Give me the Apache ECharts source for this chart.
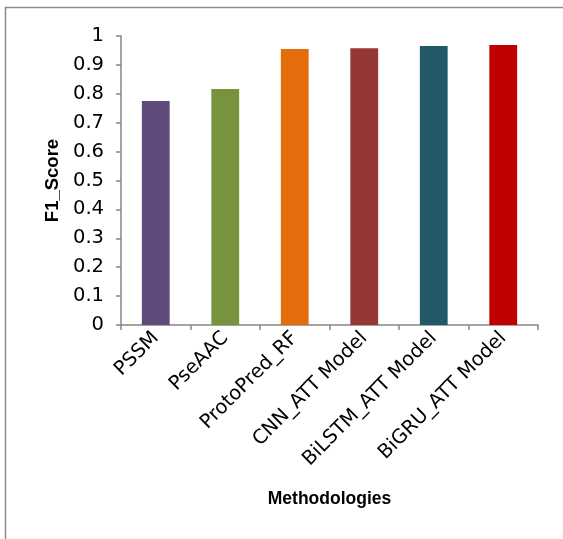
<!DOCTYPE html>
<html><head><meta charset="utf-8">
<script src="https://cdn.jsdelivr.net/npm/echarts@6/dist/echarts.min.js"></script>
<style>html,body{margin:0;padding:0;background:#fff}#c{width:563px;height:539px}</style>
</head><body><div id="c"></div>
<script>
const categories = ['PSSM','PseAAC','ProtoPred_RF','CNN_ATT Model','BiLSTM_ATT Model','BiGRU_ATT Model'];
const values = [0.775, 0.817, 0.955, 0.958, 0.965, 0.969];
const colors = ['#604A7B','#77933C','#E46C0A','#953735','#215968','#C00000'];
const yTicks = [0,0.1,0.2,0.3,0.4,0.5,0.6,0.7,0.8,0.9,1];
const font = "'DejaVu Sans', sans-serif";
const titleFont = "'Liberation Sans', Arial, sans-serif";
const chart = echarts.init(document.getElementById('c'));
chart.setOption({
  animation:false,
  backgroundColor:'#fff',
  graphic:[{type:'rect',shape:{x:5.5,y:7.5,width:600,height:600},style:{fill:'none',stroke:'#8c8c8c',lineWidth:1.5},silent:true}],
  grid:{left:121,right:25,top:36,bottom:214},
  xAxis:{type:'category',data:categories,
    axisLine:{lineStyle:{color:'#868686',width:1.5}},
    axisTick:{show:true,alignWithLabel:false,length:5,lineStyle:{color:'#868686',width:1.5}},
    axisLabel:{rotate:45,interval:0,color:'#000',fontSize:19.5,fontFamily:font,margin:10},
    name:'Methodologies',nameLocation:'middle',nameGap:165,
    nameTextStyle:{fontWeight:'bold',fontSize:17.5,color:'#000',fontFamily:titleFont}
  },
  yAxis:{type:'value',min:0,max:1,interval:0.1,
    axisLine:{show:true,lineStyle:{color:'#868686',width:1.5}},
    axisTick:{show:true,length:5,lineStyle:{color:'#868686',width:1.5}},
    splitLine:{show:false},
    axisLabel:{color:'#000',fontSize:19.5,fontFamily:font,margin:17,
      formatter:v=>{const t=yTicks.find(x=>Math.abs(x-v)<1e-6);return t===undefined?'':String(t);}},
    name:'F1_Score',nameLocation:'middle',nameGap:58,nameRotate:90,
    nameTextStyle:{fontWeight:'bold',fontSize:18.5,color:'#000',fontFamily:titleFont}
  },
  series:[{type:'bar',barWidth:'40%',
    data:values.map((v,i)=>({value:v,itemStyle:{color:colors[i]}}))
  }]
});
</script></body></html>
